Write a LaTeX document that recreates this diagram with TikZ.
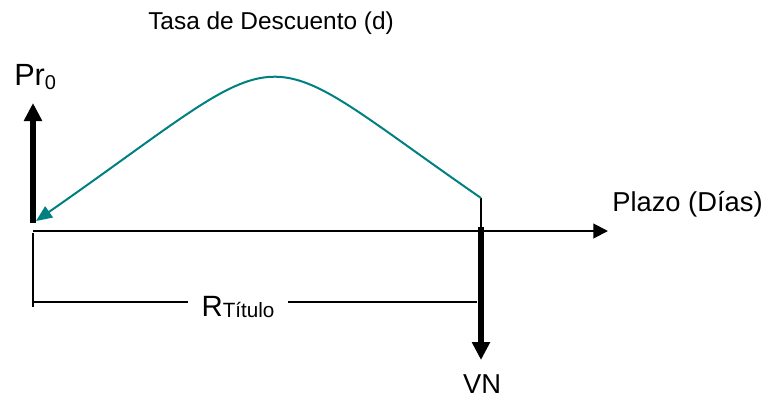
\documentclass[tikz,border=0pt]{standalone}
\usepackage{fontspec}
\setmainfont{Liberation Sans}
\usetikzlibrary{arrows.meta}
\definecolor{curva}{RGB}{0,128,128}
\tikzset{
  etiqueta/.style={inner sep=0pt,font=\fontsize{20.5}{22}\selectfont},
  grueso/.style={line width=4.5pt,-{Triangle[length=13.5pt,width=13pt]}},
  eje/.style={line width=1.5pt,-{Triangle[length=11pt,width=11pt]}},
  fino/.style={line width=1pt}
}
\begin{document}
\begin{tikzpicture}[x=0.75pt,y=-0.75pt]
\useasboundingbox (0,0) rectangle (766,404);
\coordinate (O) at (33,231);
\coordinate (E) at (608,231);
\coordinate (A) at (481,231);
\coordinate (C) at (481,198);
\node[etiqueta,anchor=base west,font=\fontsize{18.3}{22}\selectfont] (tasa) at (148,29) {Tasa de Descuento (d)};
\node[etiqueta,anchor=base west] (plazo) at (612,211) {Plazo (Días)};
\node[etiqueta,anchor=base west,font=\fontsize{23}{24}\selectfont] (pr) at (14,85) {Pr\raisebox{-3pt}{\fontsize{15}{15}\selectfont 0}};
\node[etiqueta,anchor=base] (vn) at (482,393) {VN};
\node[etiqueta,anchor=base,inner xsep=10pt,font=\fontsize{22}{24}\selectfont] (rt) at (238,316) {R\raisebox{-1pt}{\fontsize{15.5}{16}\selectfont Título}};
\coordinate (rl) at (33,302);
\coordinate (rr) at (477,302);
\draw[eje] (O) -- (E);
\draw[grueso] (33,223) -- (33,103);
\draw[line width=1.5pt] (C) -- (A);
\draw[grueso] (481,227) -- (481,360);
\draw[fino] (33,233) -- (33,307);
\draw[fino] (rl) -- (rl -| rt.west);
\draw[fino] (rt.east |- rr) -- (rr);
\draw[curva,line width=1.5pt,-{Triangle[length=12pt,width=10pt]}] (C) .. controls (244,34) and (304,34) .. (36,221);
\end{tikzpicture}
\end{document}
